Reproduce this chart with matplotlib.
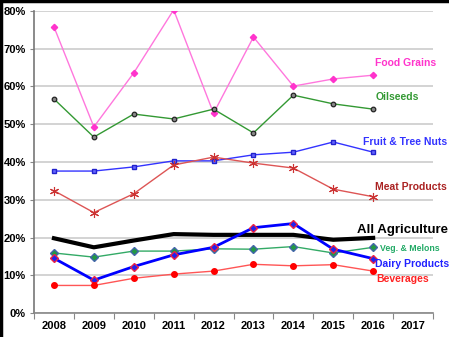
import matplotlib.pyplot as plt
import numpy as np

plt.rcParams['font.family'] = ['Liberation Sans', 'DejaVu Sans']

years = ['2008', '2009', '2010', '2011', '2012', '2013', '2014', '2015', '2016', '2017']
food_grains = [75.8, 49.3, 63.6, 80.3, 52.9, 73.1, 60.1, 62.0, 63.0]
oilseeds = [56.7, 46.6, 52.7, 51.4, 54.0, 47.7, 57.7, 55.4, 54.0]
fruit_nuts = [37.6, 37.6, 38.7, 40.3, 40.3, 41.9, 42.6, 45.3, 42.6]
meat = [32.4, 26.6, 31.6, 39.2, 41.3, 39.7, 38.4, 32.8, 30.8]
all_ag = [19.8, 17.4, 19.2, 20.9, 20.7, 20.7, 20.7, 19.4, 19.9]
veg_melons = [15.9, 14.8, 16.4, 16.4, 17.0, 16.9, 17.6, 15.9, 17.4]
dairy = [14.5, 8.7, 12.3, 15.4, 17.4, 22.6, 23.7, 16.9, 14.4]
beverages = [7.3, 7.3, 9.2, 10.3, 11.1, 12.9, 12.5, 12.8, 11.1]

x = np.arange(len(food_grains))

fig = plt.figure(figsize=(4.49, 3.37), dpi=100)
ax = fig.add_axes([34 / 449, 24 / 337, 399 / 449, 302 / 337])

ax.plot(x, food_grains, color='#FF77DD', lw=1, marker='D', ms=3.2,
        mfc='#FF33CC', mec='#FF33CC')
ax.plot(x, oilseeds, color='#339933', lw=1, marker='o', ms=3.3,
        mfc='#888888', mec='#222222', mew=0.9)
ax.plot(x, fruit_nuts, color='#3333FF', lw=1, marker='s', ms=3.2,
        mfc='#6666FF', mec='#2222CC')
ax.plot(x, meat, color='#DD5555', lw=1, marker=(6, 2, 0), ms=6.5,
        mec='#CC3333', mew=0.8)
ax.plot(x, all_ag, color='black', lw=3)
ax.plot(x, veg_melons, color='#33AA66', lw=1, marker='D', ms=4,
        mfc='#229944', mec='#4466AA')
ax.plot(x, dairy, color='#0000FF', lw=2, marker='D', ms=4,
        mfc='#2222EE', mec='#EE2244')
ax.plot(x, beverages, color='#FF5555', lw=1, marker='o', ms=4,
        mfc='#FF0000', mec='#FF0000')

lab = dict(fontsize=7.5, fontweight='bold', va='center', ha='left', clip_on=False)
ax.text(8.05, 66.2, 'Food Grains', color='#FF33CC', **lab)
ax.text(8.07, 57.2, 'Oilseeds', color='#339933', **lab)
ax.text(7.75, 45.3, 'Fruit & Tree Nuts', color='#3333FF', **lab)
ax.text(8.05, 33.4, 'Meat Products', color='#AA2222', **lab)
ax.text(7.6, 22.0, 'All Agriculture', color='black', fontsize=9.5,
        fontweight='bold', va='center', ha='left')
ax.text(8.18, 17.0, 'Veg. & Melons', color='#22AA66', fontsize=6.3,
        fontweight='bold', va='center', ha='left')
ax.text(8.05, 13.0, 'Dairy Products', color='#2222FF', **lab)
ax.text(8.07, 9.0, 'Beverages', color='#FF2222', **lab)

ax.set_xlim(-0.5, 9.5)
ax.set_ylim(0, 80)
ax.set_yticks(np.arange(0, 81, 10))
ax.set_yticklabels([f'{v}%' for v in range(0, 81, 10)])
ax.set_xticks(np.arange(-0.5, 10, 1))
ax.set_xticklabels([])
ax.set_xticks(np.arange(len(years)), minor=True)
ax.set_xticklabels(years, minor=True)
ax.tick_params(axis='x', which='minor', length=0, pad=6)
ax.tick_params(axis='x', which='major', length=4, color='#888888')
ax.tick_params(axis='y', length=3, color='#888888', pad=3)
for t in ax.get_xticklabels(minor=True) + ax.get_yticklabels():
    t.set_fontsize(8)
    t.set_fontweight('bold')

ax.grid(axis='y', color='#D0D0D0', lw=1.3)
ax.set_axisbelow(True)
for s in ['top', 'right']:
    ax.spines[s].set_visible(False)
ax.spines['left'].set_color('#777777')
ax.spines['bottom'].set_color('#888888')
ax.spines['left'].set_linewidth(1.2)
ax.spines['bottom'].set_linewidth(1.2)

# frame edges
fig.add_artist(plt.Line2D([0, 1], [0.997, 0.997], color='black', lw=2.5, transform=fig.transFigure))
fig.add_artist(plt.Line2D([0.002, 0.002], [0, 1], color='black', lw=2.5, transform=fig.transFigure))

plt.savefig('out.png', dpi=100)
